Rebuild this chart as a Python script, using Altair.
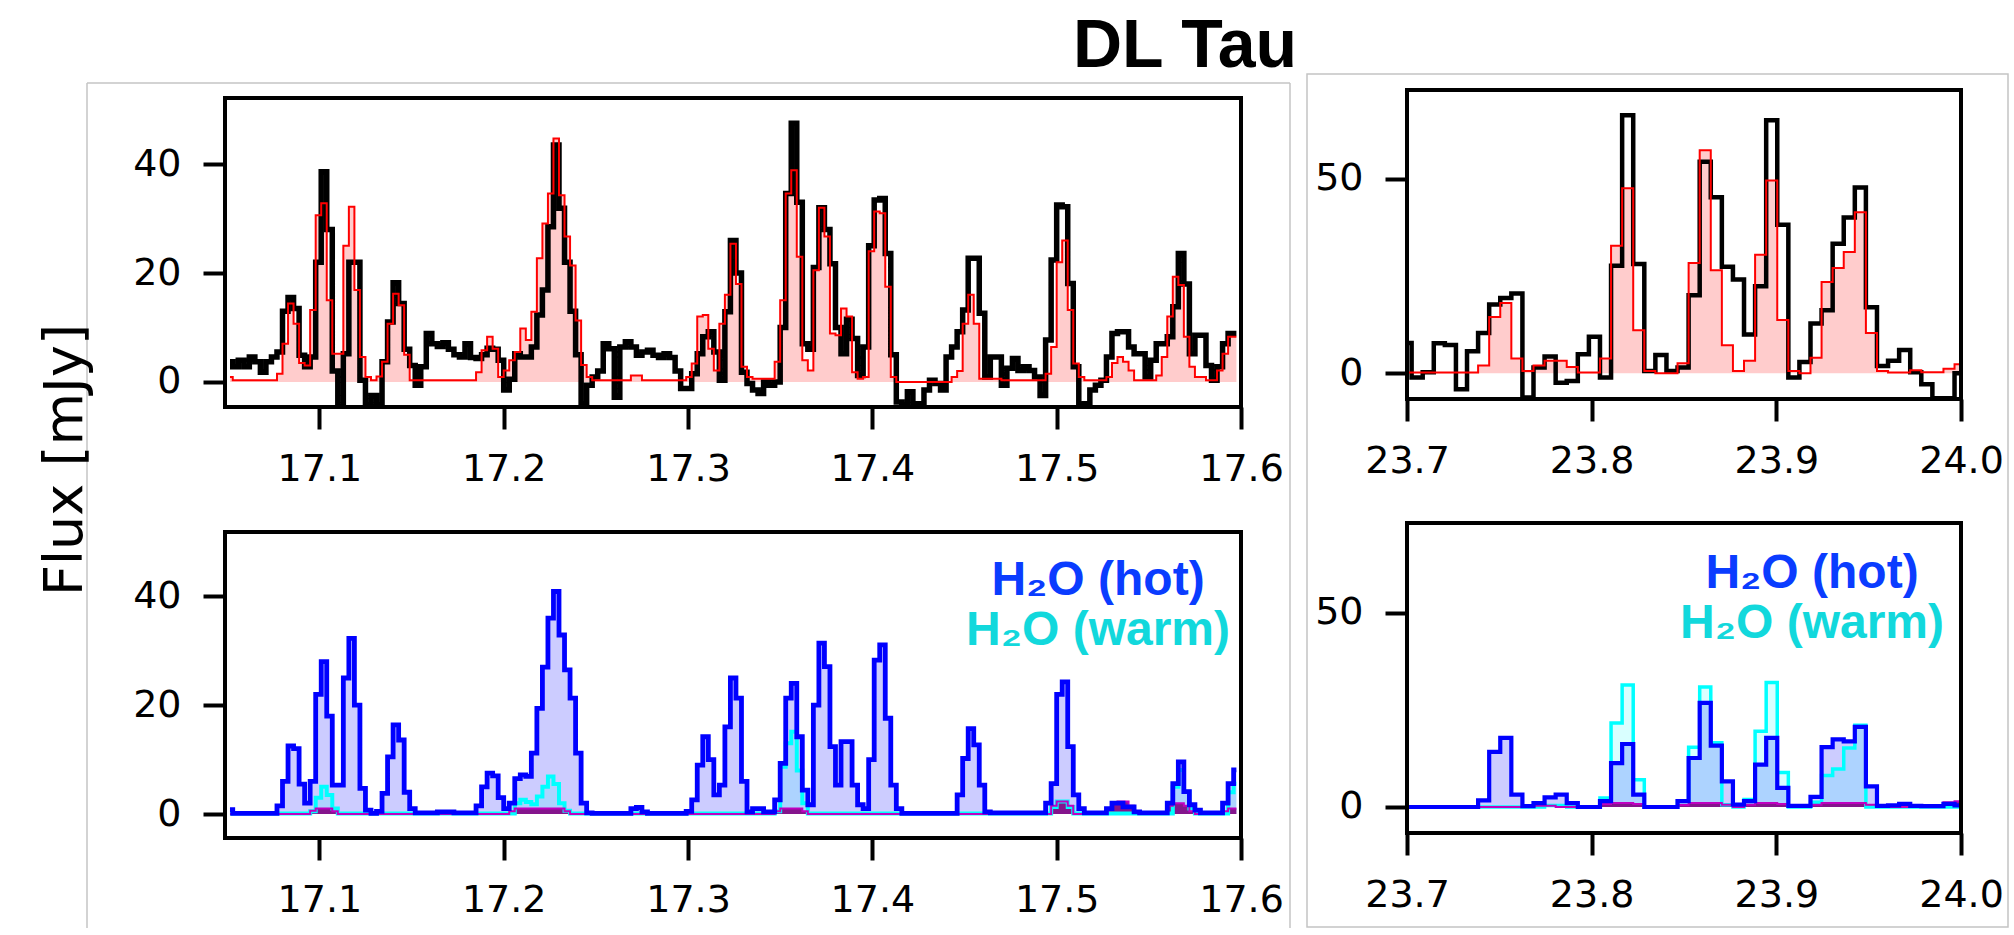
import altair as alt
import pandas as pd

# ---------------- data ----------------
# left window 17.05-17.60 um : bin centres start 17.0515, bin width 0.003 um (183 bins)
LAM_L0, DLAM_L, NL = 17.0515, 0.003, 183
obs_left = [3.7, 2.8, 4.0, 2.8, 4.6, 3.7, 1.8, 3.7, 4.6, 5.5,
            13.0, 15.5, 13.5, 4.9, 2.8, 4.6, 22.0, 38.6, 28.0, 2.0,
            -4.6, 5.2, 22.0, 22.0, 0.3, -4.3, -2.5, -4.3, 3.7, 11.0,
            18.2, 14.4, 6.0, 3.0, -0.6, 2.8, 8.9, 7.0, 6.5, 7.2,
            6.0, 5.0, 4.6, 7.0, 4.5, 4.3, 5.0, 6.2, 6.0, 4.0,
            -1.5, 0.5, 5.2, 4.6, 4.6, 6.4, 12.3, 16.9, 28.5, 43.5,
            31.9, 22.0, 13.0, 5.0, -4.0, -0.6, 0.9, 2.0, 7.0, 6.1,
            -2.8, 6.4, 7.4, 6.4, 4.9, 5.5, 5.8, 4.9, 4.5, 5.2,
            4.5, 2.0, -1.2, -1.2, 1.5, 5.2, 8.3, 9.2, 5.5, 0.3,
            12.9, 26.0, 20.0, 1.8, -0.3, -1.5, -2.1, 0.0, -0.6, 0.0,
            10.0, 34.6, 47.5, 33.0, 7.0, 6.0, 21.0, 32.0, 28.0, 21.7,
            10.0, 5.2, 11.5, 8.0, 1.2, 6.4, 25.0, 33.4, 33.7, 23.6,
            5.0, -3.7, -4.3, -1.8, -4.0, -4.0, -1.5, 0.3, -0.3, -1.5,
            4.6, 6.4, 9.2, 13.2, 22.7, 22.7, 12.6, 0.9, 4.6, 4.6,
            -0.6, 2.5, 4.3, 2.1, 2.8, 2.1, 0.9, -2.5, 7.7, 22.4,
            32.5, 32.2, 18.1, 2.8, -4.3, -4.0, -1.5, -0.6, 0.3, 4.6,
            8.9, 9.2, 9.2, 6.4, 5.2, 5.2, 0.9, 4.0, 7.0, 7.0,
            8.3, 13.8, 23.6, 18.0, 5.2, 8.6, 8.6, 3.0, 0.3, 2.8,
            7.0, 8.9, 8.9]
model_left = [0.9, 0.3, 0.3, 0.3, 0.3, 0.3, 0.3, 0.3, 0.3, 1.5,
              7.0, 14.4, 10.7, 3.5, 3.0, 13.2, 30.6, 32.8, 15.0, 5.2,
              5.2, 25.0, 32.2, 16.9, 4.6, 0.9, 0.3, 1.0, 3.7, 10.7,
              16.2, 14.1, 5.0, 0.3, 0.3, 0.3, 0.3, 0.3, 0.3, 0.3,
              0.3, 0.3, 0.3, 0.3, 0.3, 1.8, 5.8, 8.3, 6.1, 0.9,
              2.1, 4.0, 5.5, 9.8, 7.7, 12.9, 22.7, 29.1, 34.6, 44.7,
              34.3, 26.7, 21.4, 11.3, 3.1, 0.9, 0.3, 0.3, 0.3, 0.3,
              0.3, 0.3, 0.3, 1.2, 1.2, 0.3, 0.3, 0.3, 0.3, 0.3,
              0.3, 0.3, 0.3, 0.9, 3.4, 12.0, 12.3, 6.1, 2.1, 10.7,
              16.0, 25.4, 18.0, 2.8, 0.9, 0.6, 0.6, 0.6, 0.6, 3.7,
              15.0, 34.6, 38.9, 23.0, 4.0, 2.1, 20.5, 32.0, 26.7, 8.9,
              8.6, 13.5, 12.0, 1.8, 0.6, 0.9, 24.0, 31.3, 31.0, 17.5,
              0.9, 0.0, 0.0, 0.0, 0.0, 0.0, 0.0, 0.0, 0.0, 0.0,
              0.0, 0.9, 2.0, 10.7, 16.0, 10.7, 0.6, 0.6, 0.6, 0.6,
              0.3, 0.3, 0.3, 0.3, 0.3, 0.3, 0.3, 0.3, 1.5, 6.4,
              22.0, 26.0, 13.2, 3.4, 0.9, 0.3, 0.3, 0.3, 0.3, 0.9,
              3.5, 4.6, 3.7, 2.1, 0.3, 0.3, 0.3, 0.3, 1.2, 4.6,
              12.0, 19.3, 17.8, 8.3, 2.8, 0.9, 0.9, 0.3, 0.3, 2.1,
              5.2, 8.3, 8.3]
hot_left = [0.8, 0.1, 0.1, 0.1, 0.1, 0.1, 0.1, 0.1, 0.1, 1.5,
            6.0, 12.5, 12.0, 5.5, 2.0, 6.0, 22.0, 28.0, 18.0, 5.3,
            5.3, 25.0, 32.3, 20.0, 4.7, 0.7, 0.1, 0.5, 3.8, 10.5,
            16.4, 13.6, 4.0, 1.0, 0.2, 0.2, 0.2, 0.2, 0.4, 0.4,
            0.4, 0.2, 0.2, 0.2, 0.2, 1.5, 5.0, 7.5, 7.0, 3.0,
            1.0, 2.0, 6.5, 7.2, 6.9, 11.2, 19.4, 27.0, 36.0, 40.9,
            32.9, 26.5, 21.3, 11.2, 2.0, 0.2, 0.1, 0.1, 0.1, 0.1,
            0.1, 0.1, 0.1, 1.0, 1.2, 0.4, 0.1, 0.1, 0.1, 0.1,
            0.1, 0.1, 0.1, 0.5, 2.6, 9.0, 14.2, 10.0, 3.5, 5.3,
            16.0, 25.0, 21.3, 6.0, 0.4, 1.0, 1.0, 0.4, 0.4, 2.6,
            9.3, 21.3, 24.0, 14.2, 4.4, 1.7, 20.0, 31.4, 27.1, 12.4,
            5.3, 13.3, 13.3, 5.3, 1.7, 1.0, 10.0, 28.3, 31.1, 17.6,
            5.3, 1.0, 0.1, 0.1, 0.1, 0.1, 0.1, 0.1, 0.1, 0.1,
            0.1, 0.1, 3.5, 10.2, 15.7, 12.7, 5.3, 0.4, 0.2, 0.2,
            0.2, 0.2, 0.2, 0.2, 0.2, 0.2, 0.2, 0.2, 2.0, 5.6,
            22.0, 24.3, 12.4, 3.5, 1.0, 0.2, 0.2, 0.2, 0.2, 1.0,
            2.0, 2.0, 1.3, 1.3, 0.4, 0.2, 0.2, 0.2, 0.2, 0.2,
            2.0, 5.6, 9.6, 4.1, 1.7, 0.7, 0.2, 0.2, 0.2, 0.2,
            2.0, 5.6, 8.1]
warm_left = [0.1, 0.1, 0.1, 0.1, 0.1, 0.1, 0.1, 0.1, 0.1, 0.1,
             0.1, 0.1, 0.1, 0.1, 0.1, 0.5, 3.0, 5.0, 3.5, 1.0,
             0.1, 0.1, 0.1, 0.1, 0.1, 0.1, 0.1, 0.1, 0.1, 0.1,
             0.1, 0.1, 0.1, 0.1, 0.1, 0.1, 0.1, 0.1, 0.1, 0.1,
             0.1, 0.1, 0.1, 0.1, 0.1, 0.1, 0.1, 0.1, 0.1, 0.1,
             0.1, 0.1, 2.0, 2.6, 2.2, 1.8, 3.2, 5.0, 6.9, 5.5,
             2.0, 0.6, 0.1, 0.1, 0.1, 0.1, 0.1, 0.1, 0.1, 0.1,
             0.1, 0.1, 0.1, 0.1, 0.1, 0.1, 0.1, 0.1, 0.1, 0.1,
             0.1, 0.1, 0.1, 0.1, 0.1, 0.1, 0.1, 0.1, 0.1, 0.1,
             0.1, 0.1, 0.1, 0.1, 0.1, 0.1, 0.1, 0.1, 0.1, 0.5,
             8.7, 13.0, 15.1, 8.0, 2.0, 0.1, 0.1, 0.1, 0.1, 0.1,
             0.1, 0.1, 0.1, 0.1, 0.1, 0.1, 0.1, 0.1, 0.1, 0.1,
             0.1, 0.1, 0.1, 0.1, 0.1, 0.1, 0.1, 0.1, 0.1, 0.1,
             0.1, 0.1, 0.1, 0.1, 0.1, 0.1, 0.1, 0.1, 0.1, 0.1,
             0.1, 0.1, 0.1, 0.1, 0.1, 0.1, 0.1, 0.1, 0.1, 1.3,
             2.3, 2.3, 1.3, 0.1, 0.1, 0.1, 0.1, 0.1, 0.1, 0.1,
             0.1, 0.1, 0.1, 0.1, 0.1, 0.1, 0.1, 0.1, 0.1, 0.1,
             0.1, 5.0, 8.1, 4.1, 1.0, 0.1, 0.1, 0.1, 0.1, 0.1,
             0.1, 4.0, 5.6]
other_left = [0.0, 0.0, 0.0, 0.0, 0.0, 0.0, 0.0, 0.0, 0.0, 0.0,
              0.0, 0.0, 0.0, 0.0, 0.0, 0.6, 1.0, 1.0, 1.0, 0.5,
              0.0, 0.0, 0.0, 0.0, 0.0, 0.0, 0.0, 0.0, 0.0, 0.0,
              0.0, 0.0, 0.0, 0.0, 0.0, 0.0, 0.0, 0.0, 0.0, 0.0,
              0.0, 0.0, 0.0, 0.0, 0.0, 0.0, 0.0, 0.0, 0.0, 0.0,
              0.0, 0.5, 1.0, 1.0, 1.0, 1.0, 1.0, 1.0, 1.0, 1.0,
              1.0, 0.5, 0.0, 0.0, 0.0, 0.0, 0.0, 0.0, 0.0, 0.0,
              0.0, 0.0, 0.0, 0.0, 0.0, 0.0, 0.0, 0.0, 0.0, 0.0,
              0.0, 0.0, 0.0, 0.0, 0.0, 0.0, 0.0, 0.0, 0.0, 0.0,
              0.0, 0.0, 0.0, 0.0, 0.0, 0.0, 0.0, 0.0, 0.0, 0.5,
              1.0, 1.0, 1.0, 1.0, 0.5, 0.0, 0.0, 0.0, 0.0, 0.0,
              0.0, 0.0, 0.0, 0.0, 0.0, 0.0, 0.0, 0.0, 0.0, 0.0,
              0.0, 0.0, 0.0, 0.0, 0.0, 0.0, 0.0, 0.0, 0.0, 0.0,
              0.0, 0.0, 0.0, 0.0, 0.0, 0.0, 0.0, 0.0, 0.0, 0.0,
              0.0, 0.0, 0.0, 0.0, 0.0, 0.0, 0.0, 0.0, 0.0, 1.5,
              2.3, 2.3, 1.5, 0.0, 0.0, 0.0, 0.0, 0.0, 0.0, 1.0,
              2.0, 2.3, 2.3, 1.5, 0.5, 0.0, 0.0, 0.0, 0.0, 0.0,
              1.5, 2.0, 2.0, 1.5, 0.5, 0.0, 0.0, 0.0, 0.0, 0.0,
              0.5, 1.0, 1.0]

# right window 23.70-24.00 um : bin centres start 23.6995, bin width 0.006 um (51 bins)
LAM_R0, DLAM_R, NR = 23.6995, 0.006, 51
obs_right = [7.8, -1.1, 0.3, 7.7, 7.3, -4.1, 5.7, 10.4, 17.7, 19.4,
             20.5, -6.2, 1.5, 4.3, -2.4, -2.0, 4.9, 9.4, -1.1, 27.7,
             66.4, 28.1, 0.6, 4.7, 0.6, 1.5, 20.1, 54.4, 45.3, 27.4,
             24.1, 10.0, 22.4, 65.1, 38.2, -1.1, 2.9, 12.8, 16.2, 33.3,
             40.1, 47.8, 17.0, 1.9, 3.2, 6.0, 0.3, -2.8, -6.4, -6.4,
             0.0]
model_right = [0.2, 0.2, 0.2, 0.2, 0.2, 0.2, 0.2, 2.0, 14.5, 18.1,
               3.8, 0.6, 2.0, 3.2, 3.2, 1.6, 0.2, 0.2, 3.8, 32.8,
               47.6, 11.1, 0.6, 0.0, 0.0, 2.6, 28.4, 57.4, 26.5, 7.2,
               0.6, 3.2, 30.5, 49.6, 13.7, 0.6, 0.0, 4.0, 23.5, 27.1,
               31.2, 41.4, 10.4, 0.6, 0.2, 0.2, 0.8, 0.3, 0.3, 1.2,
               2.3]
hot_right = [0.0, 0.0, 0.0, 0.0, 0.0, 0.0, 0.0, 1.7, 14.2, 17.8,
             3.2, 0.2, 1.0, 2.5, 3.2, 1.0, 0.0, 0.0, 1.5, 11.3,
             16.2, 3.2, 0.0, 0.0, 0.0, 1.5, 12.6, 26.8, 15.8, 6.6,
             0.6, 1.5, 10.9, 17.8, 4.9, 0.3, 0.3, 2.6, 15.4, 17.4,
             16.9, 20.6, 5.3, 0.3, 0.4, 0.8, 0.3, 0.2, 0.2, 0.8,
             0.4]
warm_right = [0.0, 0.0, 0.0, 0.0, 0.0, 0.0, 0.0, 0.0, 0.0, 0.0,
              0.0, 0.0, 0.0, 0.4, 0.4, 0.0, 0.0, 0.0, 2.3, 21.6,
              31.4, 7.0, 0.0, 0.0, 0.0, 1.5, 15.4, 30.9, 16.5, 0.6,
              0.0, 1.9, 19.5, 32.0, 8.9, 0.0, 0.0, 1.2, 8.1, 9.8,
              15.2, 21.0, 0.0, 0.0, 0.0, 0.0, 0.0, 0.0, 0.0, 0.0,
              0.0]
other_right = [0.0, 0.0, 0.0, 0.0, 0.0, 0.0, 0.0, 0.0, 0.0, 0.0,
               0.0, 0.3, 0.3, 0.3, 0.0, 0.0, 0.0, 0.0, 0.8, 1.0,
               1.0, 0.8, 0.0, 0.0, 0.0, 0.5, 1.0, 1.0, 1.0, 0.6,
               0.0, 0.6, 1.0, 1.0, 0.8, 0.0, 0.0, 0.6, 1.0, 1.0,
               1.0, 1.0, 0.6, 0.0, 0.0, 0.0, 0.0, 0.0, 0.0, 1.2,
               1.5]

xticks_left = [17.1, 17.2, 17.3, 17.4, 17.5, 17.6]
xticks_right = [23.7, 23.8, 23.9, 24.0]
yticks_left = [0, 20, 40]
yticks_right = [0, 50]

TITLE = "DL Tau"
YLABEL = "Flux [mJy]"
LEG_HOT = "H₂O (hot)"
LEG_WARM = "H₂O (warm)"

lam_left = [round(LAM_L0 + DLAM_L * i, 4) for i in range(NL)]
lam_right = [round(LAM_R0 + DLAM_R * k, 4) for k in range(NR)]

# ---------------- styling helpers ----------------
AXFONT = "DejaVu Sans"
LEGFONT = "Liberation Sans"
HOT_C, WARM_C = "#0a3cff", "#12d8dc"
FRAME_C = "#c4c4c4"


def ax_x(vals):
    return alt.Axis(values=vals, format=".1f", title=None, grid=False, domain=False,
                    ticks=True, tickSize=22, tickWidth=4, tickColor="black",
                    labelFont=AXFONT, labelFontSize=38, labelColor="black",
                    labelPadding=21, labelFlush=False, labelOverlap=False)


def ax_y(vals):
    return alt.Axis(values=vals, format="d", title=None, grid=False, domain=False,
                    ticks=True, tickSize=22, tickWidth=4, tickColor="black",
                    labelFont=AXFONT, labelFontSize=38, labelColor="black",
                    labelPadding=22, labelOverlap=False)


def one(text=""):
    return alt.Chart(pd.DataFrame({"t": [text]}))


def box(W, H, top):
    return one().mark_rect(filled=False, stroke="black", strokeWidth=4).encode(
        x=alt.value(0), x2=alt.value(W), y=alt.value(top), y2=alt.value(H))


def top_panel(lam, obs, model, xdom, ydom, W, H, top, xt, yt, obs_w):
    df = pd.DataFrame({"lam": lam, "obs": obs, "model": model})
    base = alt.Chart(df)
    X = alt.X("lam:Q", scale=alt.Scale(domain=xdom, nice=False, zero=False), axis=ax_x(xt))

    def Y(f):
        return alt.Y(f, scale=alt.Scale(domain=ydom, nice=False, zero=False), axis=ax_y(yt))

    fill = base.mark_area(interpolate="step", color="#ff0000", opacity=0.2, clip=True).encode(
        x=X, y=Y("model:Q"), y2=alt.datum(0))
    obsl = base.mark_line(interpolate="step", color="black", strokeWidth=obs_w, clip=True).encode(
        x=X, y=Y("obs:Q"))
    modl = base.mark_line(interpolate="step", color="#ff0000", strokeWidth=2, clip=True).encode(
        x=X, y=Y("model:Q"))
    return [fill, obsl, modl, box(W, H, top)]


def bottom_panel(lam, hot, warm, other, xdom, ydom, W, H, top, xt, yt, hot_w, warm_w, tx, ty1, ty2):
    df = pd.DataFrame({"lam": lam, "hot": hot, "warm": warm, "other": other})
    base = alt.Chart(df)
    X = alt.X("lam:Q", scale=alt.Scale(domain=xdom, nice=False, zero=False), axis=ax_x(xt))

    def Y(f):
        return alt.Y(f, scale=alt.Scale(domain=ydom, nice=False, zero=False), axis=ax_y(yt))

    layers = [
        base.mark_area(interpolate="step", color="#0000ff", opacity=0.2, clip=True).encode(
            x=X, y=Y("hot:Q"), y2=alt.datum(0)),
        base.mark_area(interpolate="step", color="#00ffff", opacity=0.15, clip=True).encode(
            x=X, y=Y("warm:Q"), y2=alt.datum(0)),
        base.mark_area(interpolate="step", color="#800080", opacity=0.9, clip=True).encode(
            x=X, y=Y("other:Q"), y2=alt.datum(0)),
        base.mark_line(interpolate="step", color="#00ffff", strokeWidth=warm_w, clip=True).encode(
            x=X, y=Y("warm:Q")),
        base.mark_line(interpolate="step", color="#c000c0", strokeWidth=2, clip=True).encode(
            x=X, y=Y("other:Q")),
        base.mark_line(interpolate="step", color="#0000ff", strokeWidth=hot_w, clip=True).encode(
            x=X, y=Y("hot:Q")),
        box(W, H, top),
        one(LEG_HOT).mark_text(font=LEGFONT, fontWeight="bold", fontSize=48, color=HOT_C,
                               align="center", baseline="alphabetic").encode(
            x=alt.value(tx), y=alt.value(ty1), text="t:N"),
        one(LEG_WARM).mark_text(font=LEGFONT, fontWeight="bold", fontSize=48, color=WARM_C,
                                align="center", baseline="alphabetic").encode(
            x=alt.value(tx), y=alt.value(ty2), text="t:N"),
    ]
    return layers


WL, WR = 1016, 554
XDOM_L, XDOM_R = [17.0488, 17.6], [23.7, 24.0]

# top-left (origin at 225, 90 on the page)
tl_layers = top_panel(lam_left, obs_left, model_left, XDOM_L, [-4.6, 53.62], WL, 317, 8,
                      xticks_left, yticks_left, 5.5)
tl_extra = [
    # anchor that pins the page origin
    one().mark_rect(opacity=0).encode(x=alt.value(-225), x2=alt.value(-224),
                                      y=alt.value(-90), y2=alt.value(-89)),
    # left light-grey frame
    one().mark_rule(color=FRAME_C, strokeWidth=1.5).encode(
        x=alt.value(-138), x2=alt.value(1065), y=alt.value(-7), y2=alt.value(-7)),
    one().mark_rule(color=FRAME_C, strokeWidth=1.5).encode(
        x=alt.value(-138), x2=alt.value(-138), y=alt.value(-7), y2=alt.value(838)),
    one().mark_rule(color=FRAME_C, strokeWidth=1.5).encode(
        x=alt.value(1065), x2=alt.value(1065), y=alt.value(-7), y2=alt.value(838)),
    one(TITLE).mark_text(font=LEGFONT, fontWeight="bold", fontSize=68, color="black",
                         align="center", baseline="alphabetic").encode(
        x=alt.value(960), y=alt.value(-23), text="t:N"),
    one(YLABEL).mark_text(font=AXFONT, fontSize=54, color="black", angle=270,
                          align="center", baseline="alphabetic").encode(
        x=alt.value(-143), y=alt.value(370), text="t:N"),
]
tl = alt.layer(*(tl_extra[:4] + tl_layers + tl_extra[4:])).properties(width=WL, height=317)

# top-right (origin at 1407, 90)
tr_layers = top_panel(lam_right, obs_right, model_right, XDOM_R, [-6.61, 72.88], WR, 309, 0,
                      xticks_right, yticks_right, 4.5)
tr_frame = one().mark_rect(filled=False, stroke=FRAME_C, strokeWidth=1.5).encode(
    x=alt.value(-100), x2=alt.value(601), y=alt.value(-16), y2=alt.value(837))
tr = alt.layer(tr_frame, *tr_layers).properties(width=WR, height=309)

# bottom-left (origin at 225, 523)
bl = alt.layer(*bottom_panel(lam_left, hot_left, warm_left, other_left, XDOM_L, [-4.41, 53.49],
                             WL, 315, 9, xticks_left, yticks_left, 4.8, 4, 873, 72, 122)
               ).properties(width=WL, height=315)

# bottom-right (origin at 1407, 523)
br = alt.layer(*bottom_panel(lam_right, hot_right, warm_right, other_right, XDOM_R, [-6.69, 73.06],
                             WR, 310, 0, xticks_right, yticks_right, 4.2, 3.5, 405, 65, 115)
               ).properties(width=WR, height=310)

chart = alt.concat(tl, tr, bl, br, columns=2, spacing={"row": 116, "column": 166},
                   bounds="flush").properties(padding=0).configure_view(strokeWidth=0)

chart.save("out.html", embed_options={"renderer": "svg", "actions": False})
